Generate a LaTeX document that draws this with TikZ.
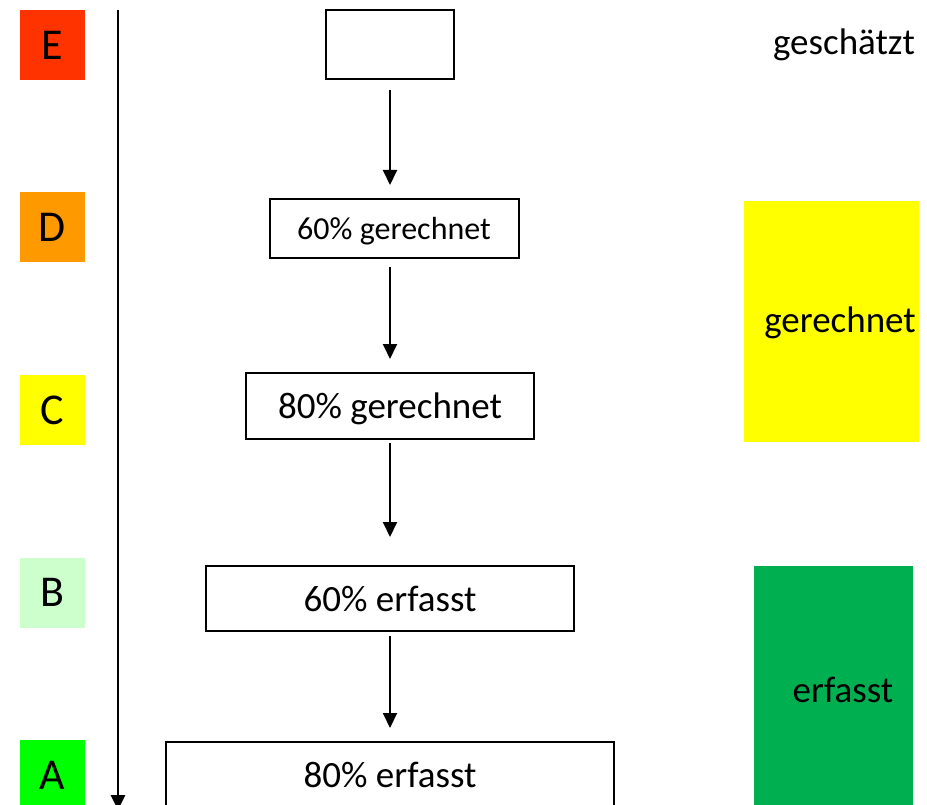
\documentclass[tikz,border=0pt]{standalone}
\usepackage{fontspec}
\setmainfont{Carlito}
\usepackage{tikz}
\usetikzlibrary{arrows.meta,positioning}
\definecolor{lvlred}{HTML}{FF3300}
\definecolor{lvlorange}{HTML}{FF9900}
\definecolor{lvlyellow}{HTML}{FFFF00}
\definecolor{lvlpale}{HTML}{CCFFCC}
\definecolor{lvlgreen}{HTML}{00FF00}
\definecolor{okgreen}{HTML}{00B050}
\begin{document}
\begin{tikzpicture}[
  x=1pt, y=-1pt,
  font=\fontsize{37}{40}\selectfont,
  lvl/.style={minimum width=65pt, minimum height=70pt, inner sep=0pt, font=\fontsize{44}{48}\selectfont},
  stage/.style={draw=black, line width=2pt, inner sep=0pt, text depth=0pt},
  band/.style={inner sep=0pt},
  arr/.style={-{Triangle[length=15pt, width=14pt]}, line width=2pt},
]
\useasboundingbox (0,0) rectangle (927,805);
\clip (0,0) rectangle (927,805);
% levels
\node[lvl, fill=lvlred] (lvlE) at (52.5, 45) {E};
\node[lvl, fill=lvlorange] (lvlD) at (52.5, 227.5) {D};
\node[lvl, fill=lvlyellow] (lvlC) at (52.5, 410) {C};
\node[lvl, fill=lvlpale] (lvlB) at (52.5, 592.5) {B};
\node[lvl, fill=lvlgreen] (lvlA) at (52.5, 775) {A};
\coordinate (axtop) at (118, 10);
\coordinate (axend) at (118, 810);
\draw[arr, line width=2.6pt] (axtop) -- (axend);
% stages
\node[stage, minimum width=128pt, minimum height=69pt] (top) at (390, 44.5) {};
\node[stage, minimum width=249pt, minimum height=59pt, font=\fontsize{32}{36}\selectfont] (r60) at (394, 228.5) {60\% gerechnet};
\node[stage, minimum width=288pt, minimum height=66pt] (r80) at (390, 406) {80\% gerechnet};
\node[stage, minimum width=368pt, minimum height=65pt] (e60) at (390, 598.5) {60\% erfasst};
\node[stage, minimum width=448pt, minimum height=66pt] (e80) at (390, 775) {80\% erfasst};
\draw[arr, shorten <=10pt, shorten >=13pt] (top.south) -- (top.south |- r60.north);
\draw[arr, shorten <=8pt, shorten >=13pt] (top.south |- r60.south) -- (top.south |- r80.north);
\draw[arr, shorten <=3pt, shorten >=28pt] (r80.south) -- (e60.north);
\draw[arr, shorten <=4pt, shorten >=13pt] (e60.south) -- (e80.north);
% right column
\node (est) at (844, 45) {geschätzt};
\node[band, fill=lvlyellow, minimum width=175pt, minimum height=241pt] (calc) at (831.5, 321.5) {};
\node (calclbl) at (840, 323) {gerechnet};
\node[band, fill=okgreen, minimum width=159pt, minimum height=250pt] (meas) at (833.5, 691) {};
\node (measlbl) at (843, 690) {erfasst};
\end{tikzpicture}
\end{document}
